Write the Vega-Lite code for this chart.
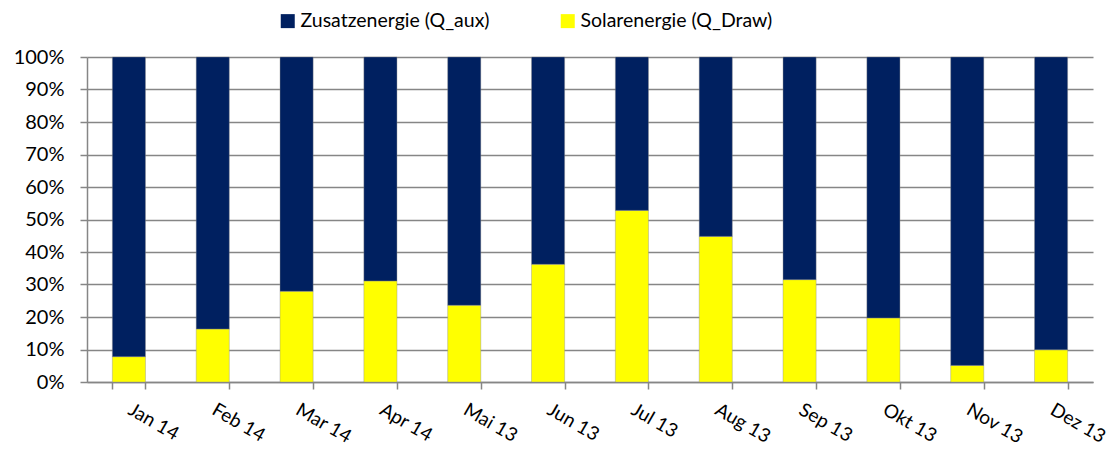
{
  "$schema": "https://vega.github.io/schema/vega-lite/v6.json",
  "width": 1006,
  "height": 325,
  "autosize": {"type": "none"},
  "padding": {"left": 87, "top": 57, "right": 22, "bottom": 68},
  "background": "white",
  "config": {
    "font": "Lato",
    "view": {"stroke": null},
    "axis": {"labelFont": "Lato", "labelFontSize": 19, "labelColor": "#000000"}
  },
  "data": {
    "values": [
      {"month": "Jan 14", "series": "Solarenergie (Q_Draw)", "value": 0.078, "ord": 1},
      {"month": "Jan 14", "series": "Zusatzenergie (Q_aux)", "value": 0.922, "ord": 2},
      {"month": "Feb 14", "series": "Solarenergie (Q_Draw)", "value": 0.163, "ord": 1},
      {"month": "Feb 14", "series": "Zusatzenergie (Q_aux)", "value": 0.837, "ord": 2},
      {"month": "Mar 14", "series": "Solarenergie (Q_Draw)", "value": 0.279, "ord": 1},
      {"month": "Mar 14", "series": "Zusatzenergie (Q_aux)", "value": 0.721, "ord": 2},
      {"month": "Apr 14", "series": "Solarenergie (Q_Draw)", "value": 0.311, "ord": 1},
      {"month": "Apr 14", "series": "Zusatzenergie (Q_aux)", "value": 0.689, "ord": 2},
      {"month": "Mai 13", "series": "Solarenergie (Q_Draw)", "value": 0.236, "ord": 1},
      {"month": "Mai 13", "series": "Zusatzenergie (Q_aux)", "value": 0.764, "ord": 2},
      {"month": "Jun 13", "series": "Solarenergie (Q_Draw)", "value": 0.362, "ord": 1},
      {"month": "Jun 13", "series": "Zusatzenergie (Q_aux)", "value": 0.638, "ord": 2},
      {"month": "Jul 13", "series": "Solarenergie (Q_Draw)", "value": 0.528, "ord": 1},
      {"month": "Jul 13", "series": "Zusatzenergie (Q_aux)", "value": 0.472, "ord": 2},
      {"month": "Aug 13", "series": "Solarenergie (Q_Draw)", "value": 0.448, "ord": 1},
      {"month": "Aug 13", "series": "Zusatzenergie (Q_aux)", "value": 0.552, "ord": 2},
      {"month": "Sep 13", "series": "Solarenergie (Q_Draw)", "value": 0.315, "ord": 1},
      {"month": "Sep 13", "series": "Zusatzenergie (Q_aux)", "value": 0.685, "ord": 2},
      {"month": "Okt 13", "series": "Solarenergie (Q_Draw)", "value": 0.197, "ord": 1},
      {"month": "Okt 13", "series": "Zusatzenergie (Q_aux)", "value": 0.803, "ord": 2},
      {"month": "Nov 13", "series": "Solarenergie (Q_Draw)", "value": 0.051, "ord": 1},
      {"month": "Nov 13", "series": "Zusatzenergie (Q_aux)", "value": 0.949, "ord": 2},
      {"month": "Dez 13", "series": "Solarenergie (Q_Draw)", "value": 0.099, "ord": 1},
      {"month": "Dez 13", "series": "Zusatzenergie (Q_aux)", "value": 0.901, "ord": 2}
    ]
  },
  "mark": {"type": "bar", "stroke": "#8a8a8a", "strokeWidth": 0.4},
  "encoding": {
    "x": {
      "field": "month",
      "type": "nominal",
      "sort": null,
      "title": null,
      "scale": {"paddingInner": 0.605, "paddingOuter": 0.3025},
      "axis": {
        "tickBand": "extent",
        "labelAngle": 30,
        "labelAlign": "left",
        "labelBaseline": "top",
        "labelPadding": 11,
        "labelOffset": 5,
        "domainColor": "#868686",
        "domainWidth": 1.5,
        "tickColor": "#868686",
        "tickWidth": 1.5,
        "tickSize": 7,
        "grid": false
      }
    },
    "y": {
      "field": "value",
      "type": "quantitative",
      "stack": "zero",
      "title": null,
      "scale": {"domain": [0, 1], "nice": false},
      "axis": {
        "values": [0, 0.1, 0.2, 0.3, 0.4, 0.5, 0.6, 0.7, 0.8, 0.9, 1],
        "format": ".0%",
        "grid": true,
        "gridColor": "#868686",
        "gridWidth": 1.5,
        "domainColor": "#868686",
        "domainWidth": 1.5,
        "tickColor": "#868686",
        "tickWidth": 1.5,
        "tickSize": 7,
        "labelFontSize": 20,
        "labelPadding": 16
      }
    },
    "order": {"field": "ord", "type": "quantitative"},
    "color": {
      "field": "series",
      "type": "nominal",
      "scale": {
        "domain": ["Zusatzenergie (Q_aux)", "Solarenergie (Q_Draw)"],
        "range": ["#002060", "#FFFF00"]
      },
      "legend": {
        "title": null,
        "orient": "none",
        "legendX": 191,
        "legendY": -46,
        "direction": "horizontal",
        "symbolType": "square",
        "symbolSize": 196,
        "symbolStrokeWidth": 0,
        "labelFont": "Lato",
        "labelFontSize": 19.5,
        "labelColor": "#000000",
        "labelLimit": 0,
        "columnPadding": 68,
        "labelOffset": 3
      }
    }
  }
}
